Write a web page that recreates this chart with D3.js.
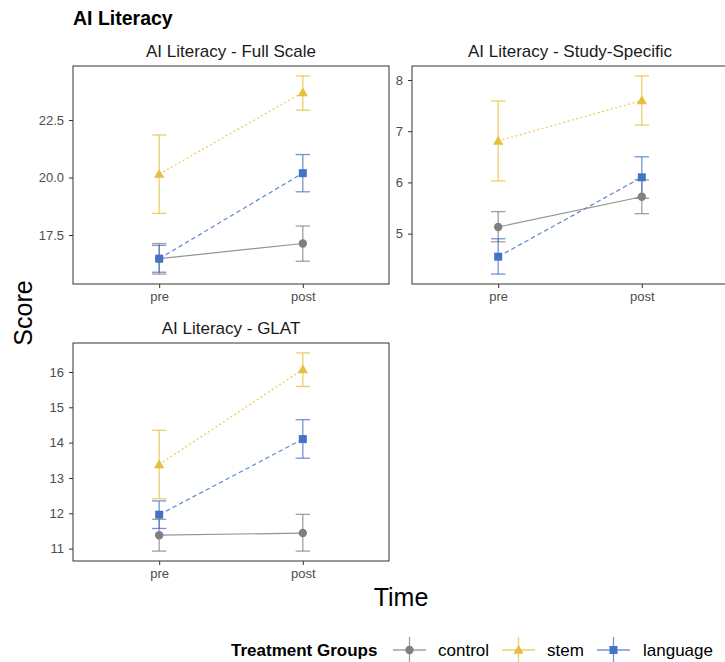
<!DOCTYPE html>
<html>
<head>
<meta charset="utf-8">
<script src="https://cdn.jsdelivr.net/npm/d3@7/dist/d3.min.js"></script>
<style>
  html, body { margin: 0; padding: 0; background: #fff; }
  svg { display: block; font-family: "Liberation Sans", Arial, sans-serif; }
</style>
</head>
<body>
<svg id="chart" width="725" height="662"></svg>
<script>
// ---------- data ----------
const times = ["pre", "post"];
const groups = ["control", "stem", "language"];
const groupColors = ["#808080", "#E6BF3C", "#4472C4"];
const groupDash = [null, "2,2.5", "4.5,3"];
const groupShapes = ["circle", "triangle", "square"];

const panelTitles = ["AI Literacy - Full Scale", "AI Literacy - Study-Specific", "AI Literacy - GLAT"];

// rows: control, stem, language ; cols: pre, post
const fullScaleMeans = [[16.47, 17.13], [20.15, 23.70], [16.47, 20.19]];
const fullScaleLower = [[15.80, 16.36], [18.44, 22.93], [15.88, 19.38]];
const fullScaleUpper = [[17.13, 17.89], [21.85, 24.42], [17.05, 21.00]];
const fullScaleTicks = [17.5, 20.0, 22.5];

const studyMeans = [[5.13, 5.72], [6.81, 7.60], [4.55, 6.10]];
const studyLower = [[4.84, 5.39], [6.03, 7.12], [4.21, 5.69]];
const studyUpper = [[5.43, 6.05], [7.59, 8.08], [4.90, 6.50]];
const studyTicks = [5, 6, 7, 8];

const glatMeans = [[11.38, 11.44], [13.38, 16.07], [11.96, 14.10]];
const glatLower = [[10.93, 10.93], [12.41, 15.59], [11.57, 13.56]];
const glatUpper = [[11.83, 11.97], [14.35, 16.54], [12.35, 14.65]];
const glatTicks = [11, 12, 13, 14, 15, 16];

// ---------- layout ----------
const svg = d3.select("#chart");
const panelW = 316, panelH = 218;
const panelBoxes = [
  { x: 73, y: 66 },
  { x: 412, y: 66 },
  { x: 73, y: 343 }
];
const panelData = [
  { means: fullScaleMeans, lower: fullScaleLower, upper: fullScaleUpper, ticks: fullScaleTicks, fmt: d3.format(".1f") },
  { means: studyMeans, lower: studyLower, upper: studyUpper, ticks: studyTicks, fmt: d3.format("d") },
  { means: glatMeans, lower: glatLower, upper: glatUpper, ticks: glatTicks, fmt: d3.format("d") }
];

function symbolFor(shape) {
  if (shape === "circle") return d3.symbol().type(d3.symbolCircle).size(Math.PI * 4.2 * 4.2);
  if (shape === "triangle") return d3.symbol().type(d3.symbolTriangle).size(46);
  return d3.symbol().type(d3.symbolSquare).size(64);
}

// title
svg.append("text").attr("x", 73).attr("y", 25)
  .attr("font-size", 19.5).attr("font-weight", "bold").attr("fill", "#000")
  .text("AI Literacy");

panelData.forEach((pd, pi) => {
  const box = panelBoxes[pi];
  const g = svg.append("g").attr("transform", `translate(${box.x},${box.y})`);

  const allLo = d3.min(pd.lower.flat());
  const allHi = d3.max(pd.upper.flat());
  const pad = (allHi - allLo) * 0.05;
  const y = d3.scaleLinear().domain([allLo - pad, allHi + pad]).range([panelH, 0]);
  const x = d3.scalePoint().domain(times).range([0, panelW]).padding(0.6);
  const capW = x.step() * 0.1;

  // panel title
  g.append("text").attr("x", panelW / 2).attr("y", -9)
    .attr("text-anchor", "middle").attr("font-size", 17).attr("fill", "#1a1a1a")
    .text(panelTitles[pi]);

  // axes
  const yAxis = d3.axisLeft(y).tickValues(pd.ticks).tickFormat(pd.fmt).tickSize(4).tickPadding(5);
  const yG = g.append("g").call(yAxis);
  const xAxis = d3.axisBottom(x).tickSize(4).tickPadding(4);
  const xG = g.append("g").attr("transform", `translate(0,${panelH})`).call(xAxis);
  [yG, xG].forEach(a => {
    a.select(".domain").remove();
    a.selectAll(".tick line").attr("stroke", "#333").attr("stroke-width", 1);
    a.selectAll(".tick text").attr("fill", "#4D4D4D").attr("font-size", 13)
      .attr("font-family", "Liberation Sans, Arial, sans-serif");
  });

  // error bars
  groups.forEach((grp, gi) => {
    const eg = g.append("g").attr("stroke", groupColors[gi]).attr("stroke-width", 1.3)
      .attr("stroke-opacity", 0.75).attr("fill", "none");
    times.forEach((t, ti) => {
      const cx = x(t);
      const yl = y(pd.lower[gi][ti]), yu = y(pd.upper[gi][ti]);
      eg.append("line").attr("x1", cx).attr("x2", cx).attr("y1", yl).attr("y2", yu);
      eg.append("line").attr("x1", cx - capW / 2).attr("x2", cx + capW / 2).attr("y1", yl).attr("y2", yl);
      eg.append("line").attr("x1", cx - capW / 2).attr("x2", cx + capW / 2).attr("y1", yu).attr("y2", yu);
    });
  });

  // lines
  groups.forEach((grp, gi) => {
    const line = d3.line().x((d, i) => x(times[i])).y(d => y(d));
    g.append("path").datum(pd.means[gi]).attr("d", line)
      .attr("fill", "none").attr("stroke", groupColors[gi]).attr("stroke-width", 1.2)
      .attr("stroke-opacity", 0.85)
      .attr("stroke-dasharray", groupDash[gi]);
  });

  // points
  groups.forEach((grp, gi) => {
    const sym = symbolFor(groupShapes[gi]);
    times.forEach((t, ti) => {
      const yy = y(pd.means[gi][ti]) + (groupShapes[gi] === "triangle" ? 0.8 : 0);
      g.append("path").attr("d", sym())
        .attr("transform", `translate(${x(t)},${yy})`)
        .attr("fill", groupColors[gi]);
    });
  });

  // panel border
  g.append("rect").attr("x", 0).attr("y", 0).attr("width", panelW).attr("height", panelH)
    .attr("fill", "none").attr("stroke", "#333").attr("stroke-width", 1);
});

// axis titles
svg.append("text").attr("x", 401).attr("y", 606)
  .attr("text-anchor", "middle").attr("font-size", 25).attr("fill", "#000").text("Time");
svg.append("text").attr("transform", "translate(32,313) rotate(-90)")
  .attr("text-anchor", "middle").attr("font-size", 25).attr("fill", "#000").text("Score");

// legend
const legY = 650;
svg.append("text").attr("x", 231).attr("y", legY + 6)
  .attr("font-size", 17).attr("font-weight", "bold").attr("fill", "#000").text("Treatment Groups");
const keyX = [393, 502, 597];
const labelX = [438, 547, 643];
groups.forEach((grp, gi) => {
  const kx = keyX[gi], kw = 33;
  const kg = svg.append("g");
  kg.append("line").attr("x1", kx).attr("x2", kx + kw).attr("y1", legY).attr("y2", legY)
    .attr("stroke", groupColors[gi]).attr("stroke-width", 1.3).attr("stroke-opacity", 0.75);
  kg.append("line").attr("x1", kx + kw / 2).attr("x2", kx + kw / 2).attr("y1", legY - 13).attr("y2", legY + 13)
    .attr("stroke", groupColors[gi]).attr("stroke-width", 1.3).attr("stroke-opacity", 0.75);
  kg.append("path").attr("d", symbolFor(groupShapes[gi])())
    .attr("transform", `translate(${kx + kw / 2},${legY + (groupShapes[gi] === "triangle" ? 0.8 : 0)})`)
    .attr("fill", groupColors[gi]);
  svg.append("text").attr("x", labelX[gi]).attr("y", legY + 6)
    .attr("font-size", 17).attr("fill", "#000").text(grp);
});
</script>
</body>
</html>
